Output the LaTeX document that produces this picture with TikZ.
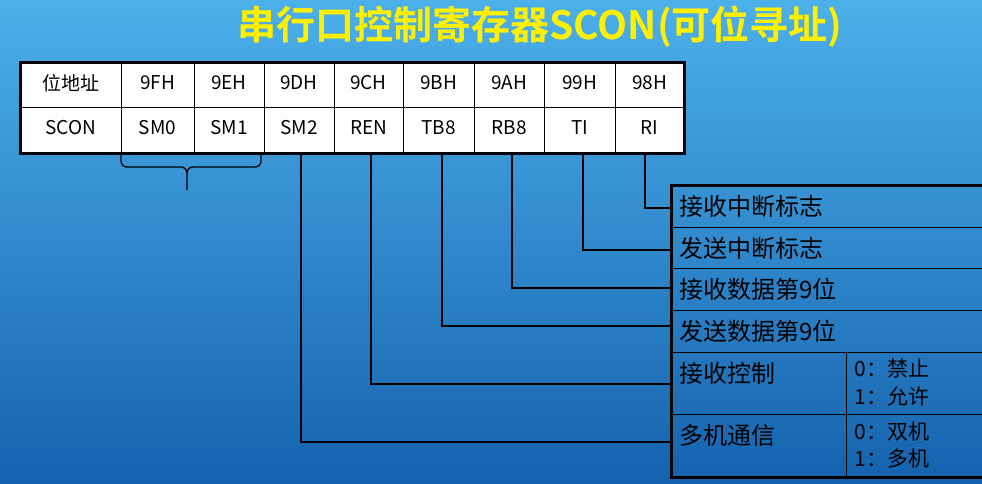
\documentclass[tikz,border=0pt]{standalone}
\usepackage{fontspec}
\setmainfont{Noto Sans CJK SC}
\newfontfamily\titlefont{Noto Sans CJK SC Bold}
\begin{document}
\begin{tikzpicture}[x=1pt,y=-1pt,
  cell/.style={font=\fontsize{19}{22}\selectfont,anchor=center},
  lbl/.style={font=\fontsize{24}{26}\selectfont,anchor=west,text=black},
  opt/.style={font=\fontsize{21}{22}\selectfont,anchor=west,text=black},
  conn/.style={line width=1.5pt,black}]
\shade[top color={rgb,255:red,76;green,176;blue,234},bottom color={rgb,255:red,21;green,98;blue,174}] (0,0) rectangle (982,483);
\useasboundingbox (0,0) rectangle (982,483);
\node[font=\titlefont\fontsize{39}{40}\selectfont,text={rgb,255:red,255;green,240;blue,0}] (title) at (540,27) {串行口控制寄存器SCON(可位寻址)};
% table
\fill[white] (20,62) rectangle (684,153);
\draw[line width=1pt] (20,107) -- (684,107);
\foreach \x in {121,194,264,334,403,474,544,615}{\draw[line width=1pt] (\x,62) -- (\x,153);}
\draw[line width=3pt] (20,62) rectangle (684,153);
\foreach \l/\a/\b/\n in {20/121/位地址/c0, 121/194/9FH/c1, 194/264/9EH/c2, 264/334/9DH/c3, 334/403/9CH/c4, 403/474/9BH/c5, 474/544/9AH/c6, 544/615/99H/c7, 615/684/98H/c8}{\node[cell] (t\n) at ({(\l+\a)/2},83) {\b};}
\node[cell] (bc0) at (70.5,128) {SCON};
\node[cell] (bc1) at (157.5,128) {SM0};
\node[cell] (bc2) at (229,128) {SM1};
\node[cell] (bc3) at (299,128) {SM2};
\node[cell] (bc4) at (368.5,128) {REN};
\node[cell] (bc5) at (438.5,128) {TB8};
\node[cell] (bc6) at (509,128) {RB8};
\node[cell] (bc7) at (579.5,128) {TI};
\node[cell] (bc8) at (649.5,128) {RI};
% brace
\draw[line width=1.3pt] (121,154) -- (121,161) arc[start angle=180,end angle=90,radius=6] -- (181,167) arc[start angle=270,end angle=360,radius=6] -- (187,190);
\draw[line width=1.3pt] (261,154) -- (261,161) arc[start angle=0,end angle=90,radius=6] -- (193,167) arc[start angle=270,end angle=180,radius=6];
% right box
\draw[line width=1pt] (671,227) -- (990,227) (671,268) -- (990,268) (671,310) -- (990,310) (671,352) -- (990,352) (671,414) -- (990,414) (846,352) -- (846,477);
\draw[line width=3pt] (990,185) -- (671,185) -- (671,477) -- (990,477);
\node[lbl] (r1) at (676,206) {接收中断标志};
\node[lbl] (r2) at (676,248) {发送中断标志};
\node[lbl] (r3) at (676,289) {接收数据第9位};
\node[lbl] (r4) at (676,331) {发送数据第9位};
\node[lbl] (r5) at (676,373) {接收控制};
\node[lbl] (r6) at (676,435) {多机通信};
\node[opt] (o5a) at (851,369) {0：禁止};
\node[opt] (o5b) at (851,396) {1：允许};
\node[opt] (o6a) at (851,432) {0：双机};
\node[opt] (o6b) at (851,459) {1：多机};
% connectors
\draw[conn] (645,153) |- (671,208);
\draw[conn] (583,153) |- (671,250);
\draw[conn] (512,153) |- (671,288);
\draw[conn] (442,153) |- (671,326);
\draw[conn] (371,153) |- (671,384);
\draw[conn] (301,153) |- (671,442);
\end{tikzpicture}
\end{document}
